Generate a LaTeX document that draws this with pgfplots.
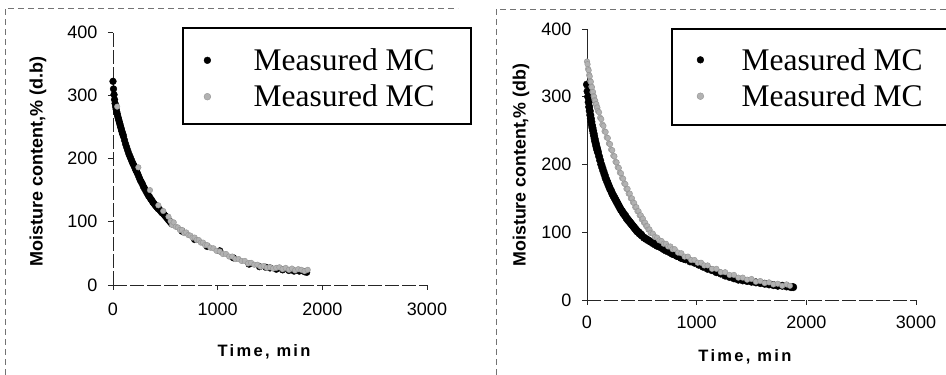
\documentclass[border=0pt]{standalone}
\usepackage{pgfplots}
\pgfplotsset{compat=1.18}
\usepackage{fontspec}
\setmainfont{Liberation Sans}
\newfontfamily\legfont{Liberation Serif}
\newfontfamily\spacedfont{Liberation Sans}[LetterSpace=14]
\newcommand\tickfont{\fontsize{18}{18}\selectfont}

\pgfplotsset{
 mcaxis/.style={
  scale only axis,
  xmin=0,xmax=3000,ymin=0,ymax=400,
  axis x line=bottom, axis y line=left,
  axis line style={-, black!85, line width=0.7pt, dash pattern=on 14pt off 3pt},
  xtick={0,1000,2000,3000}, ytick={0,100,200,300,400},
  tick align=outside, major tick length=5pt,
  tick style={black!85, line width=0.6pt, solid},
  /pgf/number format/assume math mode=true,
  /pgf/number format/set thousands separator={},
  clip=false,
  legend style={draw=none, fill=none, font=\legfont\fontsize{31.5}{31.5}\selectfont,
    anchor=north west, inner sep=0pt, column sep=0pt, nodes={inner sep=0pt}},
  legend cell align=left,
 },
 blk/.style={only marks, mark=*, mark size=3.4pt, mark options={fill=black, draw=black}},
 gry/.style={only marks, mark=*, mark size=2.8pt, mark options={fill=black!30, draw=black!42}},
}

\begin{document}
\begin{tikzpicture}[x=1pt,y=1pt]
\useasboundingbox (0,0) rectangle (946,375);

% scanned frame lines
\draw[black!55, line width=0.6pt, dash pattern=on 6pt off 4pt] (5,0) -- (5,367) -- (458,367);
\draw[black!55, line width=0.6pt, dash pattern=on 6pt off 4pt] (496,0) -- (496,366) -- (946,366);

% ---------- left panel ----------
\begin{axis}[mcaxis,
  at={(113pt,90pt)}, anchor=south west,
  width=314pt, height=253pt,
  xticklabel style={font=\tickfont, yshift=-9.5pt},
  yticklabel style={font=\tickfont, xshift=-7pt},
  xlabel={\spacedfont\bfseries\fontsize{16.5}{16.5}\selectfont Time, min},
  xlabel style={at={(axis description cs:0.481,-0.265)}, anchor=center},
  ylabel={\bfseries\fontsize{18}{18}\selectfont Moisture content,\% (d.b)},
  ylabel style={at={(axis description cs:-0.239,0.49)}, anchor=center},
  legend style={at={(axis description cs:0.2229,0.935)}, row sep=13pt},
  legend image code/.code={\draw[#1, mark size=3.4pt] plot coordinates {(24pt,0pt)}; \path (0pt,0pt) (70pt,0pt);},
]
\addplot[blk] coordinates {
(0,322)(5,310)(10,301)(15,293)(20,287)(25,282)(30,278)(35,274)(40,271)(45,267)(50,264)(55,261)(60,258)(65,255)(70,252)(75,249)(80,246)(85,243)(90,240)(95,238)(100,235)(110,229)(120,223)(130,218)(140,213)(150,208)(160,204)(170,200)(180,196)(190,192)(200,189)(210,185)(220,181)(230,178)(240,174)(250,170)(260,166)(270,163)(280,160)(290,156)(300,153)(310,150)(320,147)(330,144)(340,141)(350,139)(360,136)(370,134)(380,131)(390,129)(400,127)(410,125)(420,123)(430,121)(440,120)(450,118)(460,116)(470,114)(480,113)(490,111)(500,109)(510,107)(520,105)(530,103)(540,101)(550,99)(560,97)(660,85)(780,72)(900,61)(1020,54)(1150,43)(1300,33)(1400,29)(1460,28)(1500,27)(1560,25)(1620,24)(1680,23)(1730,22)(1780,22)(1830,21)(1850,20)
};
\addlegendentry{Measured MC}
\addplot[gry] coordinates {
(40,282)(242,186)(353,150)(433,126)(480,117)(530,108)(550,101)(565,95)(580,99)(600,92)(620,91)(640,87)(660,87)(680,82)(700,83)(720,79)(740,78)(760,75)(780,75)(800,71)(820,71)(840,67)(860,67)(880,63)(900,63)(930,59)(960,58)(990,54)(1020,53)(1050,49)(1080,49)(1110,45)(1140,45)(1170,41)(1200,41)(1230,38)(1260,38)(1290,34)(1320,35)(1350,32)(1380,32)(1410,29)(1440,30)(1470,27)(1500,28)(1530,26)(1560,27)(1590,28)(1620,25)(1650,27)(1680,24)(1710,26)(1740,23)(1770,25)(1800,24)(1830,22)(1860,24)
};
\addlegendentry{Measured MC}
\draw[line width=1.5pt] (axis description cs:0.2229,1.0158) rectangle (axis description cs:1.1401,0.6364);
\end{axis}

% ---------- right panel ----------
\begin{axis}[mcaxis,
  at={(587pt,75pt)}, anchor=south west,
  width=329pt, height=271pt,
  y axis line style={solid},
  xticklabel style={font=\tickfont, yshift=-7.5pt},
  yticklabel style={font=\tickfont, xshift=-7pt},
  xlabel={\spacedfont\bfseries\fontsize{16.5}{16.5}\selectfont Time, min},
  xlabel style={at={(axis description cs:0.480,-0.210)}, anchor=center},
  ylabel={\bfseries\fontsize{17.8}{17.8}\selectfont Moisture content,\% (db)},
  ylabel style={at={(axis description cs:-0.2006,0.498)}, anchor=center},
  legend style={at={(axis description cs:0.2584,0.930)}, row sep=13pt},
  legend image code/.code={\draw[#1, mark size=3.4pt] plot coordinates {(28pt,0pt)}; \path (0pt,0pt) (69pt,0pt);},
  blk/.append style={mark size=3.8pt},
]
\addplot[blk] coordinates {
(0,318)(5,308)(10,300)(15,292)(20,285)(25,279)(30,273)(35,268)(40,263)(45,258)(50,254)(55,250)(60,246)(65,242)(70,238)(75,234)(80,231)(85,227)(90,224)(95,221)(100,218)(110,212)(120,206)(130,200)(140,195)(150,190)(160,185)(170,180)(180,176)(190,172)(200,168)(210,164)(220,161)(230,157)(240,154)(250,151)(260,148)(270,145)(280,142)(290,139)(300,136)(310,133)(320,131)(330,128)(340,126)(350,124)(360,121)(370,119)(380,117)(390,115)(400,113)(410,111)(420,109)(430,107)(440,105)(450,103)(460,101)(470,100)(480,98)(490,97)(500,95)(520,92)(540,90)(560,88)(580,86)(600,84)(620,82)(640,80)(660,79)(680,77)(700,75)(720,73)(740,72)(760,70)(780,68)(800,67)(820,65)(840,64)(860,62)(880,61)(900,60)(940,57)(980,55)(1020,52)(1060,49)(1100,46)(1140,44)(1180,41)(1220,39)(1260,36)(1300,34)(1340,32)(1380,30)(1420,29)(1460,28)(1500,27)(1540,26)(1580,25)(1620,24)(1660,23)(1700,22)(1740,21)(1780,21)(1820,20)(1860,19)(1880,19)
};
\addlegendentry{Measured MC}
\addplot[gry] coordinates {
(0,352)(5,348)(10,341)(15,339)(20,332)(25,330)(30,323)(35,322)(40,315)(45,314)(50,307)(55,307)(60,301)(65,300)(70,295)(75,294)(80,289)(85,289)(90,284)(95,284)(100,279)(110,277)(120,269)(130,267)(140,259)(150,257)(160,249)(170,248)(180,240)(190,239)(200,231)(210,230)(220,222)(230,221)(240,213)(250,212)(260,204)(270,203)(280,196)(290,195)(300,188)(310,187)(320,180)(330,179)(340,172)(350,171)(360,164)(370,164)(380,157)(390,157)(400,150)(410,150)(420,144)(430,143)(440,137)(450,137)(460,131)(470,131)(480,125)(490,125)(500,119)(510,120)(520,114)(530,114)(540,109)(550,109)(560,104)(570,104)(580,99)(600,98)(620,93)(640,92)(660,88)(680,87)(700,83)(720,83)(740,79)(760,79)(780,75)(800,75)(830,70)(860,69)(890,64)(920,64)(950,59)(980,59)(1010,55)(1040,55)(1070,51)(1100,51)(1140,46)(1180,46)(1220,41)(1260,41)(1300,37)(1340,37)(1380,33)(1420,33)(1460,30)(1500,31)(1540,27)(1580,28)(1620,25)(1660,26)(1700,23)(1740,24)(1780,21)(1820,23)(1850,21)
};
\addlegendentry{Measured MC}
\draw[line width=1.5pt] (axis description cs:1.12,1.0) -- (axis description cs:0.2584,1.0) -- (axis description cs:0.2584,0.6458) -- (axis description cs:1.12,0.6458);
\end{axis}
\end{tikzpicture}
\end{document}
